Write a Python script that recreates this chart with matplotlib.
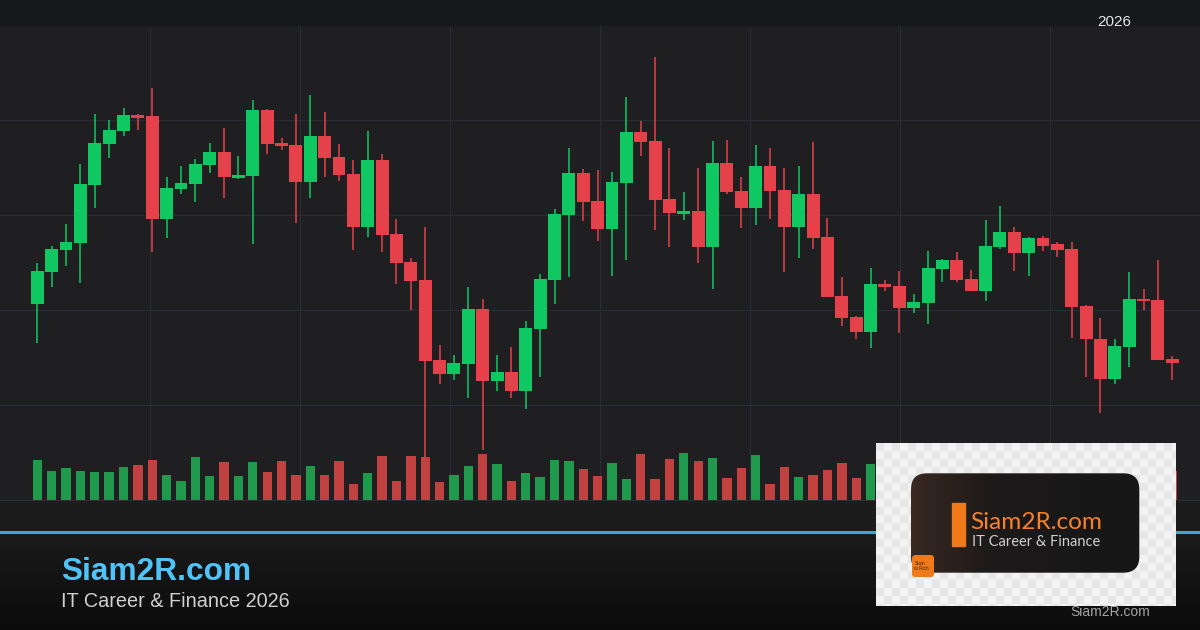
import numpy as np
import matplotlib

matplotlib.use("Agg")
import matplotlib.pyplot as plt
from matplotlib.patches import FancyBboxPatch, Rectangle
from matplotlib.lines import Line2D

plt.rcParams["font.family"] = ["Liberation Sans", "DejaVu Sans"]

# OHLC on a 0-100 price scale, volume in thousands
opens = [41.3, 48.1, 52.6, 54.2, 66.3, 74.9, 77.7, 81.1, 80.8, 59.2,
         65.5, 66.5, 70.5, 73.3, 67.8, 68.2, 82.1, 75.2, 74.7, 66.9,
         76.6, 72.2, 68.6, 57.5, 71.6, 56.0, 50.1, 46.3, 29.5, 26.6,
         28.7, 40.2, 25.1, 26.9, 23.0, 36.1, 46.4, 60.1, 68.8, 62.9,
         57.1, 66.8, 77.5, 75.6, 63.4, 60.3, 60.8, 53.3, 70.9, 65.1,
         61.5, 70.3, 65.3, 57.5, 64.4, 55.4, 42.9, 38.6, 35.4, 45.5,
         45.1, 40.5, 41.5, 48.7, 50.6, 46.6, 43.9, 53.3, 56.5, 51.9,
         55.2, 53.8, 52.9, 40.9, 34.0, 25.5, 32.3, 42.4, 42.2, 29.7]
closes = [48.2, 52.8, 54.3, 66.5, 75.2, 77.9, 81.1, 80.5, 59.2, 65.7,
          66.7, 70.7, 73.3, 68.0, 68.4, 82.1, 74.9, 74.5, 66.9, 76.6,
          72.1, 68.4, 57.5, 71.6, 55.8, 50.0, 46.2, 29.3, 26.6, 28.8,
          40.2, 25.1, 26.9, 23.0, 36.2, 46.6, 60.3, 68.8, 62.8, 57.1,
          66.9, 77.5, 75.4, 63.2, 60.5, 60.8, 53.3, 70.9, 64.9, 61.5,
          70.3, 65.1, 57.5, 64.4, 55.2, 42.8, 38.4, 35.4, 45.5, 44.9,
          40.5, 41.6, 48.8, 50.6, 46.4, 43.9, 53.5, 56.5, 51.9, 55.2,
          53.5, 52.7, 40.7, 33.8, 25.5, 32.5, 42.4, 41.8, 29.5, 28.9]
highs = [49.9, 53.5, 58.1, 70.7, 81.3, 80.0, 82.5, 81.3, 86.7, 68.1,
         70.3, 71.8, 75.2, 78.3, 72.4, 84.2, 82.3, 76.2, 81.3, 85.3,
         81.7, 74.9, 71.6, 77.7, 72.8, 59.2, 50.9, 57.4, 32.6, 30.6,
         44.8, 42.3, 30.6, 32.3, 37.7, 47.5, 61.3, 74.1, 69.7, 69.5,
         69.1, 84.8, 79.8, 93.3, 74.1, 64.8, 69.9, 75.6, 75.8, 68.0,
         74.7, 74.1, 69.9, 70.3, 75.4, 59.4, 47.0, 38.7, 48.8, 46.4,
         48.2, 43.3, 52.4, 50.8, 52.3, 48.5, 59.0, 62.0, 57.5, 55.4,
         55.6, 54.4, 54.4, 41.1, 38.4, 33.8, 47.9, 44.5, 50.6, 30.4]
lows = [33.1, 44.9, 49.3, 45.6, 61.5, 72.1, 76.7, 77.9, 52.3, 55.2,
        64.5, 62.8, 68.9, 63.6, 67.6, 54.0, 72.8, 73.7, 58.4, 63.6,
        68.1, 67.2, 52.6, 55.4, 52.3, 45.5, 39.9, 9.1, 24.5, 25.3,
        21.5, 10.5, 23.0, 21.5, 19.2, 25.8, 41.3, 47.0, 58.8, 54.6,
        47.2, 50.6, 72.4, 56.9, 53.3, 59.0, 49.8, 44.5, 64.5, 57.3,
        58.0, 59.2, 48.1, 51.0, 52.9, 42.7, 36.7, 33.8, 32.1, 43.9,
        35.2, 39.4, 37.1, 46.0, 46.0, 43.9, 41.8, 52.9, 48.3, 47.2,
        52.5, 51.2, 34.2, 26.0, 18.4, 24.5, 27.9, 39.9, 29.5, 25.3]
volumes = [397, 287, 317, 287, 277, 277, 327, 347, 397, 247,
           187, 427, 237, 377, 237, 377, 277, 387, 247, 337,
           247, 387, 157, 267, 437, 187, 437, 427, 177, 247,
           337, 457, 357, 187, 267, 227, 397, 387, 307, 237,
           367, 207, 457, 207, 407, 467, 387, 417, 217, 317,
           447, 157, 327, 227, 250, 300, 370, 220, 357, 300,
           280, 220, 350, 260, 310, 240, 380, 290, 330, 210,
           260, 240, 420, 360, 400, 280, 340, 200, 390, 290]

UP, DOWN = "#10c862", "#e5414b"
VOL_UP, VOL_DOWN = "#1f9a4c", "#c0413f"
GRID = "#2a2e39"

W, H = 1200, 630


def fy(y):
    return 1 - y / H


fig = plt.figure(figsize=(12, 6.3), dpi=100, facecolor="#1c1c1c")

# top band + footer gradient
fig.patches.append(Rectangle((0, fy(25)), 1, 25 / H, transform=fig.transFigure,
                             color="#17181a", zorder=0))
ax_bg = fig.add_axes([0, 0, 1, 97 / H])
grad = np.linspace(0.045, 0.105, 64)[:, None] * np.ones((64, 4))
grad[:, 3] = 1
ax_bg.imshow(grad[:, None, :].repeat(2, axis=1), aspect="auto", origin="lower",
             extent=(0, 1, 0, 1))
ax_bg.axis("off")
fig.add_artist(Line2D([0, 1], [fy(532), fy(532)], transform=fig.transFigure,
                      color="#3ea6d6", lw=2.2))

# price chart
step = (1172.3 - 37.3) / 79
x0, x1 = -37.3 / step, (W - 37.3) / step
ax = fig.add_axes([0, fy(500), 1, 475 / H], facecolor="#1f1f21")
ax.set_xlim(x0, x1)
ax.set_ylim(0, 100)
ax.set_xticks([x0 + k * (x1 - x0) / 8 for k in range(1, 8)])
ax.set_yticks([20, 40, 60, 80])
ax.grid(color=GRID, lw=0.8)
ax.tick_params(length=0, labelbottom=False, labelleft=False)
for side in ("left", "right"):
    ax.spines[side].set_visible(False)
for side in ("top", "bottom"):
    ax.spines[side].set_color(GRID)
    ax.spines[side].set_linewidth(0.8)

idx = np.arange(len(opens))
o, c = np.array(opens), np.array(closes)
up = c >= o
colors = np.where(up, UP, DOWN)
ax.vlines(idx, lows, highs, colors=colors, lw=1.1, zorder=2)
ax.bar(idx, np.abs(c - o), bottom=np.minimum(o, c), width=0.9, color=colors, zorder=3)

ax_vol = ax.twinx()
ax_vol.set_ylim(0, 4750)
ax_vol.bar(idx, volumes, width=0.65, color=np.where(up, VOL_UP, VOL_DOWN), zorder=1)
ax_vol.axis("off")

# texts
fig.text(61 / W, fy(580), "Siam2R.com", fontsize=22.8, fontweight="bold",
         color="#4fc3f7", va="baseline")
fig.text(61 / W, fy(606.7), "IT Career & Finance 2026", fontsize=14.3,
         color="#d0d0d0", va="baseline")
fig.text(1131.7 / W, fy(26), "2026", fontsize=11, color="#e6e6e6",
         ha="right", va="baseline")
fig.text(1150 / W, fy(616), "Siam2R.com", fontsize=10, color="#a5a5a5",
         ha="right", va="baseline")

# logo card
bw, bh = 300, 162.4
ax_logo = fig.add_axes([876 / W, fy(443.3 + bh), bw / W, bh / H], zorder=5)
ax_logo.set_xlim(0, bw)
ax_logo.set_ylim(bh, 0)
cell = 8
nr, nc = int(np.ceil(bh / cell)), int(np.ceil(bw / cell))
checker = (np.add.outer(np.arange(nr), np.arange(nc)) % 2) * 0.05 + 0.9
ax_logo.imshow(checker, cmap="gray", vmin=0, vmax=1, extent=(0, nc * cell, nr * cell, 0),
               interpolation="nearest", aspect="auto")
card = FancyBboxPatch((35, 30), 228.3, 99.4, boxstyle="round,pad=0,rounding_size=16",
                      fc="none", ec="none")
ax_logo.add_patch(card)
gx = np.linspace(0, 1, 200)
r = np.interp(gx, [0, 0.35, 1], [0.22, 0.11, 0.09])
g = np.interp(gx, [0, 0.35, 1], [0.16, 0.10, 0.09])
b = np.interp(gx, [0, 0.35, 1], [0.13, 0.10, 0.09])
cg = np.stack([r, g, b], axis=1)[None, :, :].repeat(4, axis=0)
im = ax_logo.imshow(cg, extent=(35, 263.3, 129.4, 30), aspect="auto")
im.set_clip_path(card)
ax_logo.add_patch(Rectangle((76, 60), 13, 42.4, color="#f07a1a"))
ax_logo.text(94.7, 85.7, "Siam2R.com", fontsize=17.6, color="#f5822a",
             family=["Lato", "DejaVu Sans"], va="baseline")
ax_logo.text(96, 102.7, "IT Career & Finance", fontsize=10.5, color="#cfcfcf",
             family=["Lato", "DejaVu Sans"], va="baseline")
ax_logo.add_patch(FancyBboxPatch((36, 111.7), 22, 22, boxstyle="round,pad=0,rounding_size=3",
                                 fc="#f07a1a", ec="none"))
ax_logo.text(38.5, 122.7, "Siam\nto Rich", fontsize=3.3, color="#3a2010",
             va="center", linespacing=1.0)
ax_logo.axis("off")

fig.savefig("out.png", dpi=100, facecolor=fig.get_facecolor())
